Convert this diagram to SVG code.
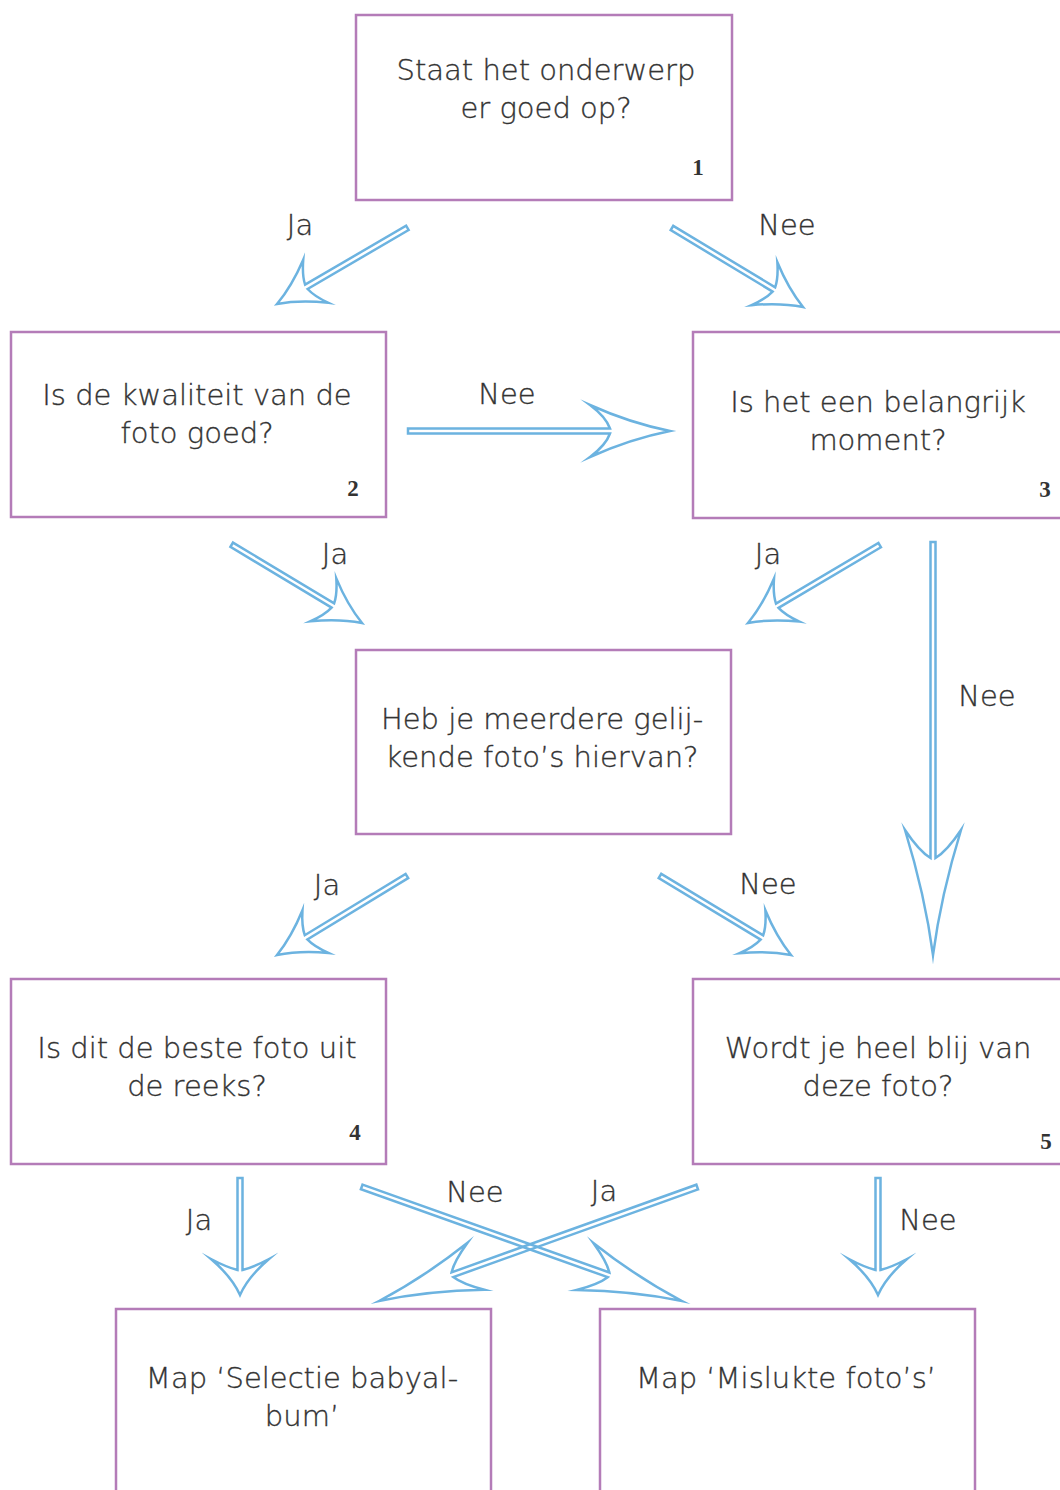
<svg xmlns="http://www.w3.org/2000/svg" width="1060" height="1490" viewBox="0 0 1060 1490">
<style>
.box{fill:#fff;stroke:#b47cb8;stroke-width:2.5}
.t{font-family:"DejaVu Sans",sans-serif;font-weight:200;font-size:29px;fill:#333;text-anchor:middle;stroke:#333;stroke-width:0.35}
.n{font-family:"Liberation Serif",serif;font-weight:bold;font-size:23px;fill:#333;text-anchor:middle}
.a{fill:none;stroke:#6cb3e0;stroke-width:2.5;stroke-linejoin:miter;stroke-miterlimit:12}
.l{font-family:"DejaVu Sans",sans-serif;font-weight:200;font-size:29px;fill:#333;text-anchor:middle;stroke:#333;stroke-width:0.35}
</style>
<rect width="1060" height="1490" fill="#fff"/>
<g id="connectors">
<path class="a" transform="translate(277,304) rotate(149.7)" d="M -151,-2.5 L -34,-2.5 Q -36,-12 -45,-25 Q -22,-8 0,0 Q -22,8 -45,25 Q -36,12 -34,2.5 L -151,2.5 Z"/>
<path class="a" transform="translate(803,307) rotate(31.1)" d="M -153,-2.5 L -34,-2.5 Q -36,-12 -45,-25 Q -22,-8 0,0 Q -22,8 -45,25 Q -36,12 -34,2.5 L -153,2.5 Z"/>
<path class="a" transform="translate(670,431)" d="M -262,-2.5 L -60,-2.5 Q -64,-14 -80,-26 Q -40,-8 0,0 Q -40,8 -80,26 Q -64,14 -60,2.5 L -262,2.5 Z"/>
<path class="a" transform="translate(362,623) rotate(31)" d="M -152,-2.5 L -34,-2.5 Q -36,-12 -45,-25 Q -22,-8 0,0 Q -22,8 -45,25 Q -36,12 -34,2.5 L -152,2.5 Z"/>
<path class="a" transform="translate(748,623) rotate(149.4)" d="M -153,-2.5 L -34,-2.5 Q -36,-12 -45,-25 Q -22,-8 0,0 Q -22,8 -45,25 Q -36,12 -34,2.5 L -153,2.5 Z"/>
<path class="a" transform="translate(933,955) rotate(90)" d="M -413,-2.5 L -97,-2.5 Q -104,-14 -125,-28 Q -60,-8 0,0 Q -60,8 -125,28 Q -104,14 -97,2.5 L -413,2.5 Z"/>
<path class="a" transform="translate(277,955) rotate(148.7)" d="M -152,-2.5 L -34,-2.5 Q -36,-12 -45,-25 Q -22,-8 0,0 Q -22,8 -45,25 Q -36,12 -34,2.5 L -152,2.5 Z"/>
<path class="a" transform="translate(791,955) rotate(31.1)" d="M -153,-2.5 L -34,-2.5 Q -36,-12 -45,-25 Q -22,-8 0,0 Q -22,8 -45,25 Q -36,12 -34,2.5 L -153,2.5 Z"/>
<path class="a" transform="translate(240,1295) rotate(90)" d="M -117,-2.5 L -25,-2.5 Q -28,-14 -36,-29 Q -18,-8 0,0 Q -18,8 -36,29 Q -28,14 -25,2.5 L -117,2.5 Z"/>
<path class="a" transform="translate(682,1301) rotate(19.6)" d="M -340,-2.5 L -78,-2.5 Q -84,-12 -103,-25 Q -50,-7 0,0 Q -50,7 -103,25 Q -84,12 -78,2.5 L -340,2.5 Z"/>
<path class="a" transform="translate(379,1301) rotate(160.3)" d="M -338,-2.5 L -78,-2.5 Q -84,-12 -103,-25 Q -50,-7 0,0 Q -50,7 -103,25 Q -84,12 -78,2.5 L -338,2.5 Z"/>
<path class="a" transform="translate(878,1295) rotate(90)" d="M -117,-2.5 L -25,-2.5 Q -28,-14 -36,-29 Q -18,-8 0,0 Q -18,8 -36,29 Q -28,14 -25,2.5 L -117,2.5 Z"/>
<text class="l" x="300" y="235">Ja</text>
<text class="l" x="787" y="235">Nee</text>
<text class="l" x="507" y="404">Nee</text>
<text class="l" x="335" y="564">Ja</text>
<text class="l" x="768" y="564">Ja</text>
<text class="l" x="987" y="706">Nee</text>
<text class="l" x="327" y="895">Ja</text>
<text class="l" x="768" y="894">Nee</text>
<text class="l" x="199" y="1230">Ja</text>
<text class="l" x="475" y="1202">Nee</text>
<text class="l" x="604" y="1201">Ja</text>
<text class="l" x="928" y="1230">Nee</text>
</g>
<g id="node1">
<rect class="box" x="356" y="15" width="376" height="185"/>
<text class="t" x="546" y="80">Staat het onderwerp</text>
<text class="t" x="546" y="118">er goed op?</text>
<text class="n" x="698" y="175">1</text>
</g>
<g id="node2">
<rect class="box" x="11" y="332" width="375" height="185"/>
<text class="t" x="197" y="405">Is de kwaliteit van de</text>
<text class="t" x="197" y="443">foto goed?</text>
<text class="n" x="353" y="496">2</text>
</g>
<g id="node3">
<rect class="box" x="693" y="332" width="380" height="186"/>
<text class="t" x="878" y="412">Is het een belangrijk</text>
<text class="t" x="878" y="450">moment?</text>
<text class="n" x="1045" y="497">3</text>
</g>
<g id="node-heb">
<rect class="box" x="356" y="650" width="375" height="184"/>
<text class="t" x="542" y="729">Heb je meerdere gelij-</text>
<text class="t" x="542" y="767">kende foto’s hiervan?</text>
</g>
<g id="node4">
<rect class="box" x="11" y="979" width="375" height="185"/>
<text class="t" x="197" y="1058">Is dit de beste foto uit</text>
<text class="t" x="197" y="1096">de reeks?</text>
<text class="n" x="355" y="1140">4</text>
</g>
<g id="node5">
<rect class="box" x="693" y="979" width="380" height="185"/>
<text class="t" x="878" y="1058">Wordt je heel blij van</text>
<text class="t" x="878" y="1096">deze foto?</text>
<text class="n" x="1046" y="1149">5</text>
</g>
<g id="node-selectie">
<rect class="box" x="116" y="1309" width="375" height="200"/>
<text class="t" x="302" y="1388">Map ‘Selectie babyal-</text>
<text class="t" x="302" y="1426">bum’</text>
</g>
<g id="node-mislukte">
<rect class="box" x="600" y="1309" width="375" height="200"/>
<text class="t" x="786" y="1388">Map ‘Mislukte foto’s’</text>
</g>
</svg>
